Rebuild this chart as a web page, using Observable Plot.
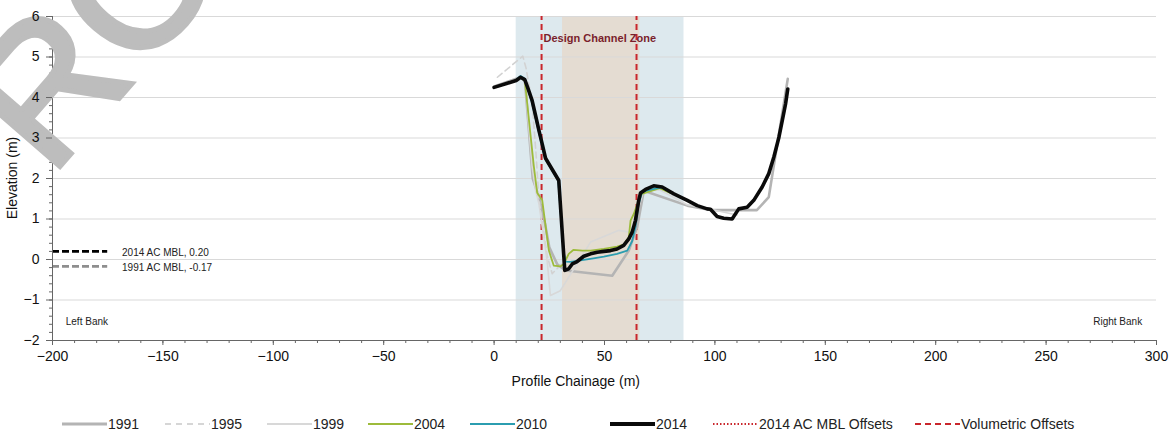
<!DOCTYPE html>
<html>
<head>
<meta charset="utf-8">
<script src="https://cdn.jsdelivr.net/npm/d3@7"></script>
<script src="https://cdn.jsdelivr.net/npm/@observablehq/plot@0.6"></script>
<style>
  body { margin: 0; background: #fff; font-family: 'Liberation Sans', Arial, sans-serif; }
  #legend { position: relative; width: 1173px; height: 37px; font-size: 14px; color: #222; }
  .item { position: absolute; top: 15px; height: 18px; display: flex; align-items: center; white-space: nowrap; }
  .item svg { margin-right: 1px; }
</style>
</head>
<body>
<div id="chart"></div>
<div id="legend"></div>
<script>
// ---------- data ----------
const xTicksMajor = [-200, -150, -100, -50, 0, 50, 100, 150, 200, 250, 300];
const yTicksMajor = [-2, -1, 0, 1, 2, 3, 4, 5, 6];

const zoneOuter = [10, 86];      // light blue zone
const zoneInner = [31, 66];      // brown design channel zone
const volumetricOffsets = [21.5, 64.5];

const mbl2014 = 0.20;
const mbl1991 = -0.17;

const s1991 = [[0,4.27],[12,4.5],[14,4.4],[17.5,2.0],[20.3,1.54],[23,0.9],[25,0.3],[28.6,-0.12],[32.4,-0.27],[53.5,-0.4],[61,0.22],[64.8,0.8],[67.8,1.7],[87.5,1.33],[98,1.22],[119,1.22],[124.4,1.54],[133,4.46]];
const s1995 = [[1.5,4.5],[13,5.02],[14.5,4.72],[15.5,4.4],[17.2,3.9],[19,2.6],[20.3,1.5],[24,0.1],[26.3,-0.35],[30.8,-0.1],[33,-0.05]];
const s1999 = [[12,4.5],[13.9,4.45],[17.2,2.3],[18.8,1.7],[20.3,1.38],[24,-0.02],[25.5,-0.89],[30,-0.77],[43.7,0.43],[56.5,0.72],[61.8,0.67],[64,1.04],[67.8,1.7],[75,1.72],[87.5,1.35],[98,1.24],[110,1.1]];
const s2004 = [[10,4.42],[12,4.5],[13.9,4.42],[18,2.3],[19.5,1.65],[21.8,1.46],[24.8,0.22],[27,-0.15],[30,-0.17],[31.6,-0.11],[33.8,0.14],[36,0.24],[40,0.22],[43.7,0.22],[49.7,0.26],[55.7,0.32],[58.7,0.37],[61,0.55],[61.8,0.96],[63.3,1.13],[65.5,1.46],[67,1.62],[71.6,1.7],[75,1.76],[80,1.64]];
const s2010 = [[10,4.44],[12,4.53],[13.9,4.46],[17,3.9],[20,3.2],[23,2.5],[29,1.95],[31.5,0.2],[32.3,-0.05],[34.6,-0.06],[40.6,-0.01],[45,0.03],[49.7,0.07],[55.7,0.14],[60.3,0.22],[62.5,0.45],[64,0.8],[65.5,1.37],[67,1.66],[69,1.7],[73.9,1.76],[76,1.78],[81,1.63]];
const s2014 = [[0,4.25],[6,4.35],[10,4.42],[12,4.5],[13.9,4.44],[15.5,4.2],[17.2,3.93],[18.8,3.55],[20.3,3.19],[21.8,2.85],[23.3,2.5],[29.3,1.95],[32,-0.27],[33.8,-0.23],[35.4,-0.11],[37.6,-0.05],[40.6,0.08],[43.7,0.14],[46.7,0.18],[49.7,0.2],[52.7,0.22],[55.7,0.26],[58.7,0.35],[61,0.51],[62.5,0.67],[64,0.96],[65.5,1.46],[66.3,1.64],[68.6,1.73],[72.3,1.82],[76.1,1.79],[81.4,1.62],[87.5,1.46],[92,1.33],[96.5,1.25],[98,1.24],[101,1.06],[104,1.02],[107.8,1.0],[110.8,1.25],[114.6,1.29],[117.6,1.46],[121.4,1.79],[124.4,2.12],[126.7,2.53],[129,3.02],[130.5,3.43],[132,3.84],[133,4.21]];

const seriesStyle = [
  {name: "1991", data: s1991, stroke: "#b4b4b4", width: 2.6, dash: null},
  {name: "1995", data: s1995, stroke: "#d2d2d2", width: 1.6, dash: "6,4"},
  {name: "1999", data: s1999, stroke: "#d8d8d8", width: 1.6, dash: null},
  {name: "2004", data: s2004, stroke: "#9dbb3b", width: 1.8, dash: null},
  {name: "2010", data: s2010, stroke: "#2b9db0", width: 1.8, dash: null},
  {name: "2014", data: s2014, stroke: "#0a0a0a", width: 3.6, dash: null}
];

const X = d => d[0], Y = d => d[1];
const noLabel = () => "";

const chart = Plot.plot({
  width: 1173, height: 400,
  marginLeft: 52, marginRight: 17, marginTop: 16, marginBottom: 60,
  x: {domain: [-200, 300]},
  y: {domain: [-2, 6]},
  style: {fontFamily: "'Liberation Sans', Arial, sans-serif", fontSize: "14px", color: "#111", background: "#fff"},
  marks: [
    Plot.rectX([zoneOuter], {x1: d => d[0], x2: d => d[1], y1: -2, y2: 6, fill: "#dde9ee"}),
    Plot.rectX([zoneInner], {x1: d => d[0], x2: d => d[1], y1: -2, y2: 6, fill: "#e4dcd2"}),
    Plot.gridY(yTicksMajor, {stroke: "#d9d9d9", strokeOpacity: 1, strokeWidth: 1}),
    Plot.ruleX(volumetricOffsets, {y1: -2, y2: 6, stroke: "#c9262c", strokeWidth: 2, strokeDasharray: "6,4"}),
    ...seriesStyle.map(s => Plot.line(s.data, {x: X, y: Y, stroke: s.stroke, strokeWidth: s.width, strokeDasharray: s.dash, strokeLinejoin: "round"})),
    // MBL legend lines inside chart
    Plot.ruleY([mbl2014], {x1: -200, x2: -175, stroke: "#000", strokeWidth: 2.6, strokeDasharray: "7,3"}),
    Plot.ruleY([mbl1991], {x1: -200, x2: -175, stroke: "#8e8e8e", strokeWidth: 2.6, strokeDasharray: "7,3"}),
    Plot.text([`2014 AC MBL, ${mbl2014.toFixed(2)}`], {x: -168.5, y: mbl2014, text: d => d, textAnchor: "start", fontSize: 10, fill: "#222", dy: 1}),
    Plot.text([`1991 AC MBL, ${mbl1991.toFixed(2)}`], {x: -168.5, y: mbl1991, text: d => d, textAnchor: "start", fontSize: 10, fill: "#222", dy: 1}),
    Plot.text(["Left Bank"], {x: -194, y: -1.53, text: d => d, textAnchor: "start", fontSize: 10, fill: "#222"}),
    Plot.text(["Right Bank"], {x: 293.5, y: -1.53, text: d => d, textAnchor: "end", fontSize: 10, fill: "#222"}),
    Plot.text(["Design Channel Zone"], {x: 22.4, y: 5.45, text: d => d, textAnchor: "start", fontSize: 11, fontWeight: "bold", fill: "#7a1f2c"}),
    // axes
    Plot.axisX(d3.range(-200, 301, 10), {tickSize: 3, tickFormat: noLabel, stroke: "#666", label: null}),
    Plot.axisX(xTicksMajor, {tickSize: 5, tickPadding: 6, stroke: "#666", label: null, fontSize: 14}),
    Plot.axisY(d3.range(-2, 6.01, 0.2).map(v => +v.toFixed(1)), {tickSize: 3, tickFormat: noLabel, stroke: "#666", label: null}),
    Plot.ruleY([-2], {stroke: "#666"}),
    Plot.ruleX([-200], {stroke: "#666"}),
    Plot.text(["Profile Chainage (m)"], {x: 37, y: -2, dy: 41, text: d => d, fontSize: 14, fill: "#111"})
  ]
});
document.getElementById("chart").appendChild(chart);

const svg = d3.select(chart);
// watermark (drawn over the plot area, under the y tick labels)
svg.append("text")
  .attr("transform", "translate(50,178) rotate(-49)")
  .attr("text-anchor", "start")
  .attr("font-family", "'Liberation Sans', Arial, sans-serif")
  .attr("font-size", 185)
  .attr("fill", "#bdbdbd")
  .attr("stroke", "#bdbdbd")
  .attr("stroke-width", 5)
  .text("ROUGH");

// major y axis on top of the watermark
const yAxis = Plot.plot({
  width: 1173, height: 400,
  marginLeft: 52, marginRight: 17, marginTop: 16, marginBottom: 60,
  y: {domain: [-2, 6]},
  style: {fontFamily: "'Liberation Sans', Arial, sans-serif", fontSize: "14px", color: "#111"},
  marks: [Plot.axisY(yTicksMajor, {tickSize: 6, tickPadding: 7, stroke: "#666", label: null, fontSize: 14})]
});
d3.select(yAxis).selectAll(":scope > g").each(function() { chart.appendChild(this); });

svg.append("text")
  .attr("transform", "translate(17,178) rotate(-90)")
  .attr("text-anchor", "middle")
  .attr("font-size", 14)
  .attr("fill", "#111")
  .text("Elevation (m)");

// legend
const legendItems = [
  {label: "1991", left: 62, stroke: "#b4b4b4", width: 3, dash: null},
  {label: "1995", left: 165, stroke: "#d6d6d6", width: 2, dash: "6,5"},
  {label: "1999", left: 267, stroke: "#d8d8d8", width: 2, dash: null},
  {label: "2004", left: 368, stroke: "#9dbb3b", width: 2, dash: null},
  {label: "2010", left: 470, stroke: "#2b9db0", width: 2, dash: null},
  {label: "2014", left: 610, stroke: "#0a0a0a", width: 4, dash: null},
  {label: "2014 AC MBL Offsets", left: 713, stroke: "#c9262c", width: 2, dash: "1.5,2"},
  {label: "Volumetric Offsets", left: 915, stroke: "#c9262c", width: 2, dash: "6,4"}
];
const legend = d3.select("#legend");
legendItems.forEach(it => {
  const div = legend.append("div").attr("class", "item").style("left", it.left + "px");
  const sw = div.append("svg").attr("width", 45).attr("height", 10);
  sw.append("line").attr("x1", 0).attr("x2", 45).attr("y1", 5).attr("y2", 5)
    .attr("stroke", it.stroke).attr("stroke-width", it.width)
    .attr("stroke-dasharray", it.dash);
  div.append("span").text(it.label);
});
</script>
</body>
</html>
